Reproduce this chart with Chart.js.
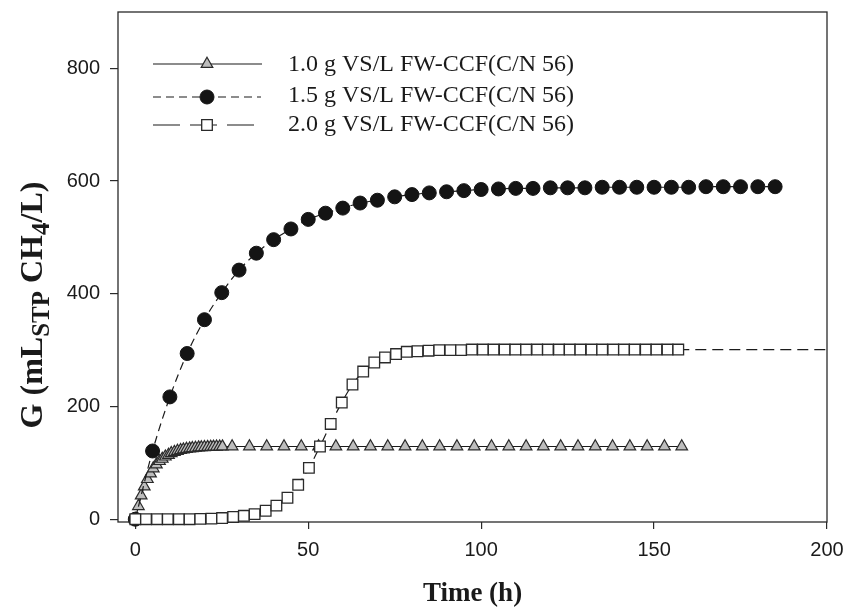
<!DOCTYPE html>
<html>
<head>
<meta charset="utf-8">
<script src="https://cdn.jsdelivr.net/npm/chart.js@4"></script>
<style>
html,body{margin:0;padding:0;background:#fff;}
#wrap{width:858px;height:609px;position:relative;}
</style>
</head>
<body>
<div id="wrap"><canvas id="c" width="858" height="609"></canvas></div>
<script>
// ---- data ----
const seriesLabels = ['1.0 g VS/L FW-CCF(C/N 56)', '1.5 g VS/L FW-CCF(C/N 56)', '2.0 g VS/L FW-CCF(C/N 56)'];

const time10 = [0, 0.9, 1.7, 2.6, 3.5, 4.4, 5.2, 6.1, 7.0, 7.8, 8.7, 9.6, 10.4, 11.3, 12.2, 13.1, 13.9, 14.8, 15.7, 16.5, 17.4, 18.3, 19.1, 20.0, 20.9, 21.8, 22.6, 23.5, 24.4, 25.2,
  28, 33, 38, 43, 48, 53, 58, 63, 68, 73, 78, 83, 88, 93, 98, 103, 108, 113, 118, 123, 128, 133, 138, 143, 148, 153, 158];
const gas10 = [0, 23, 42, 58, 71, 81, 90, 97, 103, 107, 111, 114, 117, 119, 121, 122.5, 123.5, 124.5, 125.3, 126, 126.5, 127, 127.4, 127.7, 128, 128.2, 128.4, 128.6, 128.7, 128.8,
  129, 129, 129, 129, 129, 129, 129, 129, 129, 129, 129, 129, 129, 129, 129, 129, 129, 129, 129, 129, 129, 129, 129, 129, 129, 129, 129];

const time15 = [0, 5, 10, 15, 20, 25, 30, 35, 40, 45, 50, 55, 60, 65, 70, 75, 80, 85, 90, 95, 100, 105, 110, 115, 120, 125, 130, 135, 140, 145, 150, 155, 160, 165, 170, 175, 180, 185];
const gas15 = [0, 121, 217, 294, 354, 402, 442, 472, 496, 515, 532, 543, 552, 561, 566, 572, 576, 579, 581, 583, 585, 586, 587, 587, 588, 588, 588, 589, 589, 589, 589, 589, 589, 590, 590, 590, 590, 590];

const time20 = [0, 3.1, 6.3, 9.4, 12.6, 15.7, 18.8, 22.0, 25.1, 28.3, 31.4, 34.5, 37.7, 40.8, 44.0, 47.1, 50.2, 53.4, 56.5, 59.7, 62.8, 65.9, 69.1, 72.2, 75.4, 78.5, 81.6, 84.8, 87.9, 91.1,
  94.2, 97.3, 100.5, 103.6, 106.8, 109.9, 113.0, 116.2, 119.3, 122.5, 125.6, 128.7, 131.9, 135.0, 138.2, 141.3, 144.4, 147.6, 150.7, 153.9, 157.0];
const gas20 = [0, 0, 0, 0, 0, 0, 0.5, 1, 2, 4, 6, 9, 15, 24, 38, 61, 91, 129, 169, 207, 239, 262, 278, 287, 293, 297, 298, 299, 300, 300,
  300, 301, 301, 301, 301, 301, 301, 301, 301, 301, 301, 301, 301, 301, 301, 301, 301, 301, 301, 301, 301];
// fitted curve of the 2.0 g series continues past the last measurement
const tailTime20 = [157.0, 200];
const tailGas20 = [301, 301];

const xTicks = [0, 50, 100, 150, 200];
const yTicks = [0, 200, 400, 600, 800];

// ---- helpers ----
const pts = (xs, ys) => xs.map((x, i) => ({x: x, y: ys[i]}));
const INK = '#1b1b1b';

const frameAndText = {
  id: 'frameAndText',
  beforeDatasetsDraw(chart) {
    const {ctx, chartArea: a} = chart;
    ctx.save();
    ctx.strokeStyle = '#2a2a2a';
    ctx.lineWidth = 1.3;
    ctx.strokeRect(a.left, a.top, a.right - a.left, a.bottom - a.top);
    ctx.restore();
  },
  afterDraw(chart) {
    const {ctx, chartArea: a} = chart;
    ctx.save();
    // x title
    ctx.fillStyle = '#1a1a1a';
    ctx.font = 'bold 27px "Liberation Serif", "Times New Roman", serif';
    ctx.textAlign = 'center';
    ctx.textBaseline = 'middle';
    ctx.fillText('Time (h)', (a.left + a.right) / 2, 594);

    // y title with subscripts
    const segs = [
      {t: 'G (mL', sub: false},
      {t: 'STP', sub: true},
      {t: ' CH', sub: false},
      {t: '4', sub: true},
      {t: '/L)', sub: false}
    ];
    const big = 'bold 32px "Liberation Serif", "Times New Roman", serif';
    const small = 'bold 25px "Liberation Serif", "Times New Roman", serif';
    let total = 0;
    segs.forEach(s => { ctx.font = s.sub ? small : big; s.w = ctx.measureText(s.t).width; total += s.w; });
    ctx.translate(42, 305);
    ctx.rotate(-Math.PI / 2);
    ctx.textAlign = 'left';
    ctx.textBaseline = 'alphabetic';
    let x = -total / 2;
    segs.forEach(s => {
      ctx.font = s.sub ? small : big;
      ctx.fillText(s.t, x, s.sub ? 7 : 0);
      x += s.w;
    });
    ctx.restore();

    // legend
    const rows = [
      {y: 64, ty: 65, ds: 0, dash: [], x1: 153, x2: 262},
      {y: 97, ty: 96, ds: 1, dash: [8, 5], x1: 153, x2: 261},
      {y: 125, ty: 124.5, ds: 2, dash: [27, 10], x1: 153, x2: 254}
    ];
    rows.forEach(r => {
      const d = chart.data.datasets[r.ds];
      ctx.save();
      ctx.strokeStyle = INK;
      ctx.lineWidth = 1.2;
      ctx.setLineDash(r.dash);
      ctx.beginPath();
      ctx.moveTo(r.x1, r.y);
      ctx.lineTo(r.x2, r.y);
      ctx.stroke();
      ctx.setLineDash([]);
      ctx.fillStyle = d.pointBackgroundColor;
      ctx.strokeStyle = d.pointBorderColor;
      ctx.lineWidth = d.pointBorderWidth;
      Chart.helpers.drawPoint(ctx, {pointStyle: d.pointStyle, radius: d.pointRadius, rotation: 0, borderWidth: d.pointBorderWidth}, 207, r.y);
      ctx.restore();
      ctx.save();
      ctx.fillStyle = '#1a1a1a';
      ctx.font = '24px "Liberation Serif", "Times New Roman", serif';
      ctx.textAlign = 'left';
      ctx.textBaseline = 'middle';
      ctx.fillText(seriesLabels[r.ds], 288, r.ty);
      ctx.restore();
    });
  }
};

new Chart(document.getElementById('c'), {
  type: 'line',
  data: {
    datasets: [
      {
        label: seriesLabels[0], data: pts(time10, gas10),
        borderColor: INK, borderWidth: 1.2, borderDash: [],
        pointStyle: 'triangle', pointRadius: 6.7, pointBackgroundColor: '#bdbdbd', pointBorderColor: '#2a2a2a', pointBorderWidth: 1.2,
        cubicInterpolationMode: 'monotone', order: 3, clip: false
      },
      {
        label: seriesLabels[1], data: pts(time15, gas15),
        borderColor: INK, borderWidth: 1.2, borderDash: [8, 5],
        pointStyle: 'circle', pointRadius: 7, pointBackgroundColor: '#141414', pointBorderColor: '#141414', pointBorderWidth: 1,
        cubicInterpolationMode: 'monotone', order: 2, clip: false
      },
      {
        label: seriesLabels[2], data: pts(time20, gas20),
        borderColor: INK, borderWidth: 1.2, borderDash: [11, 6],
        pointStyle: 'rect', pointRadius: 7.5, pointBackgroundColor: '#ffffff', pointBorderColor: '#2a2a2a', pointBorderWidth: 1.3,
        cubicInterpolationMode: 'monotone', order: 1, clip: false
      },
      {
        label: 'tail', data: pts(tailTime20, tailGas20),
        borderColor: INK, borderWidth: 1.2, borderDash: [11, 6],
        pointRadius: 0, order: 4, clip: false
      }
    ]
  },
  options: {
    responsive: false,
    animation: false,
    layout: {padding: {left: 0, top: 0, right: 31, bottom: 0}},
    plugins: {legend: {display: false}, tooltip: {enabled: false}},
    scales: {
      x: {
        type: 'linear', min: -5, max: 200,
        afterBuildTicks: s => { s.ticks = xTicks.map(v => ({value: v})); },
        afterFit: s => { s.height = 87; },
        grid: {drawOnChartArea: false, drawTicks: true, tickLength: 7, color: '#2a2a2a', lineWidth: 1.2},
        border: {display: false},
        ticks: {color: '#1a1a1a', padding: 9, font: {family: '"Liberation Sans", Arial, sans-serif', size: 20}, maxRotation: 0}
      },
      y: {
        type: 'linear', min: -5, max: 900,
        afterBuildTicks: s => { s.ticks = yTicks.map(v => ({value: v})); },
        afterFit: s => { s.width = 118; s.paddingTop = 12; },
        grid: {drawOnChartArea: false, drawTicks: true, tickLength: 8, color: '#2a2a2a', lineWidth: 1.2},
        border: {display: false},
        ticks: {color: '#1a1a1a', padding: 10, font: {family: '"Liberation Sans", Arial, sans-serif', size: 20}}
      }
    }
  },
  plugins: [frameAndText]
});
</script>
</body>
</html>
